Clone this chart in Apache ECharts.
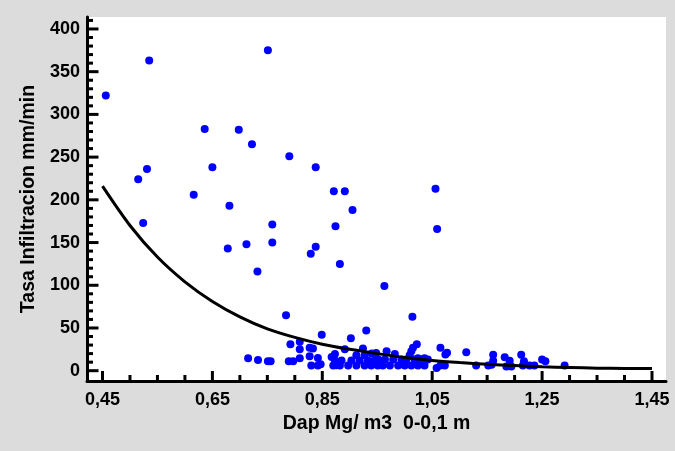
<!DOCTYPE html>
<html>
<head>
<meta charset="utf-8">
<script src="https://cdn.jsdelivr.net/npm/echarts@6/dist/echarts.min.js"></script>
<style>
html,body{margin:0;padding:0;background:#dcdcdc;}
#chart{width:675px;height:451px;}
</style>
</head>
<body>
<div id="chart"></div>
<script>
// Observed points: [Dap, Tasa infiltracion]
var scatterPoints = [
  [0.456,322],[0.535,363],[0.751,375],[0.636,283],[0.698,282],[0.722,265],[0.790,251],
  [0.838,238],[0.531,236],[0.650,238],[0.515,224],[0.616,206],[0.871,210],[0.891,210],
  [1.056,213],[0.681,193],[0.905,188],[0.524,173],[0.759,171],[0.874,169],[1.059,166],
  [0.678,143],[0.712,148],[0.759,150],[0.829,137],[0.838,145],[0.732,116],[0.882,125],
  [0.963,99],[0.784,65],[1.014,63],[0.930,47],[0.849,42],[0.902,38],
  [0.792,31],[0.809,34],[0.809,25],[0.827,27],[0.833,26],[0.827,17],[0.842,15],[0.809,14.5],
  [0.873,19.5],[0.867,16],[0.891,25],[0.924,26],
  [0.715,14.5],[0.733,12.5],[0.751,11],[0.756,11],[0.789,11],[0.797,11],
  [0.830,6],[0.842,6],[0.847,7.5],[0.870,6],[0.876,6.5],[0.882,6],[0.897,6],[0.912,6],
  [0.927,6],[0.939,6],[0.951,6],
  [0.873,12],[0.885,12],[0.903,12],[0.918,12],[0.933,12],[0.945,12],
  [0.912,18],[0.927,18],[0.940,20],
  [0.948,20.7],[0.967,22.7],[0.982,19.5],[1.012,22.7],[1.015,27],[1.009,18],[1.022,31],
  [1.065,27],[1.077,21],[1.074,19],[1.112,21.5],[1.024,14.5],[1.036,14.5],[1.058,3.2],
  [1.073,6],[1.065,6],
  [0.960,6],[0.973,6],[0.988,6],[1.000,6],[1.012,6],[1.024,6],[1.036,6],
  [0.952,13],[0.964,13],[0.979,13],[0.994,13],[1.003,13],[1.018,13],[1.030,13],[1.042,13],
  [1.130,6],[1.152,6],[1.158,7],[1.161,11.7],[1.161,18.7],[1.182,15.7],[1.191,11.7],
  [1.185,5],[1.194,5],[1.212,18.7],[1.217,11],[1.215,6],[1.227,6],[1.236,6],
  [1.250,13],[1.256,11],[1.291,6]
];
// Fitted curve
var curvePoints = [
  [0.45,216],[0.50,170],[0.55,133],[0.60,104],[0.65,81],[0.70,63],[0.75,49],[0.80,39],
  [0.85,31],[0.90,25],[0.95,20],[1.00,15.5],[1.05,12],[1.10,9.5],[1.15,7.5],[1.20,6],
  [1.25,4.6],[1.30,3.8],[1.35,3],[1.40,2.7],[1.45,2.5]
];
var xMajorTicks = [0.45,0.65,0.85,1.05,1.25,1.45];
var xMinorTicks = [0.50,0.55,0.60,0.70,0.75,0.80,0.90,0.95,1.00,1.10,1.15,1.20,1.30,1.35,1.40];
var yMajorTicks = [0,50,100,150,200,250,300,350,400];
var yMinorTicks = [10,20,30,40,60,70,80,90,110,120,130,140,160,170,180,190,210,220,230,240,260,270,280,290,310,320,330,340,360,370,380,390,410];
var xTitle = 'Dap Mg/ m3  0-0,1 m';
var yTitle = 'Tasa Infiltracion mm/min';

var XMIN = 0.4218, XMAX = 1.4755, YMIN = -12.06, YMAX = 414;
var FONT = '"Liberation Sans", Arial, sans-serif';

// inward ticks drawn through the axes' own scales
function tickRender(params, api) {
  var children = [];
  var corner = api.coord([XMIN, YMIN]);
  var bottomY = corner[1], leftX = corner[0];
  function add(x1, y1, x2, y2) {
    children.push({type: 'line', shape: {x1: x1, y1: y1, x2: x2, y2: y2},
      style: {stroke: '#000000', lineWidth: 3}});
  }
  xMinorTicks.forEach(function (v) { var x = api.coord([v, YMIN])[0]; add(x, bottomY, x, bottomY - 6); });
  xMajorTicks.forEach(function (v) { var x = api.coord([v, YMIN])[0]; add(x, bottomY, x, bottomY - 10); });
  yMinorTicks.forEach(function (v) { var y = api.coord([XMIN, v])[1]; add(leftX, y, leftX + 6, y); });
  yMajorTicks.forEach(function (v) { var y = api.coord([XMIN, v])[1]; add(leftX, y, leftX + 11.5, y); });
  return {type: 'group', children: children};
}

var chart = echarts.init(document.getElementById('chart'));
chart.setOption({
  backgroundColor: '#dcdcdc',
  animation: false,
  grid: {left: 87, right: 9, top: 17, bottom: 70, show: true, backgroundColor: '#ffffff', borderWidth: 0},
  xAxis: {
    type: 'value', min: XMIN, max: XMAX,
    name: xTitle, nameLocation: 'middle', nameGap: 33,
    nameTextStyle: {fontFamily: FONT, fontWeight: 'bold', fontSize: 19.5, color: '#000'},
    axisLine: {show: true, onZero: false, lineStyle: {color: '#000', width: 3}},
    axisTick: {show: false},
    axisLabel: {show: true, customValues: xMajorTicks, margin: 10, fontFamily: FONT, fontWeight: 'bold', fontSize: 18, color: '#000',
      formatter: function (v) { return v.toFixed(2).replace('.', ','); }},
    splitLine: {show: false}
  },
  yAxis: {
    type: 'value', min: YMIN, max: YMAX,
    name: yTitle, nameLocation: 'middle', nameGap: 47, nameRotate: 90,
    nameTextStyle: {fontFamily: FONT, fontWeight: 'bold', fontSize: 19.5, color: '#000'},
    axisLine: {show: true, onZero: false, lineStyle: {color: '#000', width: 3}},
    axisTick: {show: false},
    axisLabel: {show: true, customValues: yMajorTicks, margin: 7, fontFamily: FONT, fontWeight: 'bold', fontSize: 18, color: '#000'},
    splitLine: {show: false}
  },
  series: [{
    type: 'custom', renderItem: tickRender, data: [[XMIN, YMIN]],
    clip: false, silent: true, z: 10
  }, {
    type: 'scatter',
    data: scatterPoints, symbol: 'circle', symbolSize: 8,
    itemStyle: {color: '#0000ff', opacity: 1}, z: 2
  }, {
    type: 'line',
    data: curvePoints, showSymbol: false, symbol: 'none', smooth: 0.3,
    lineStyle: {color: '#000', width: 3}, z: 3
  }]
});
</script>
</body>
</html>
